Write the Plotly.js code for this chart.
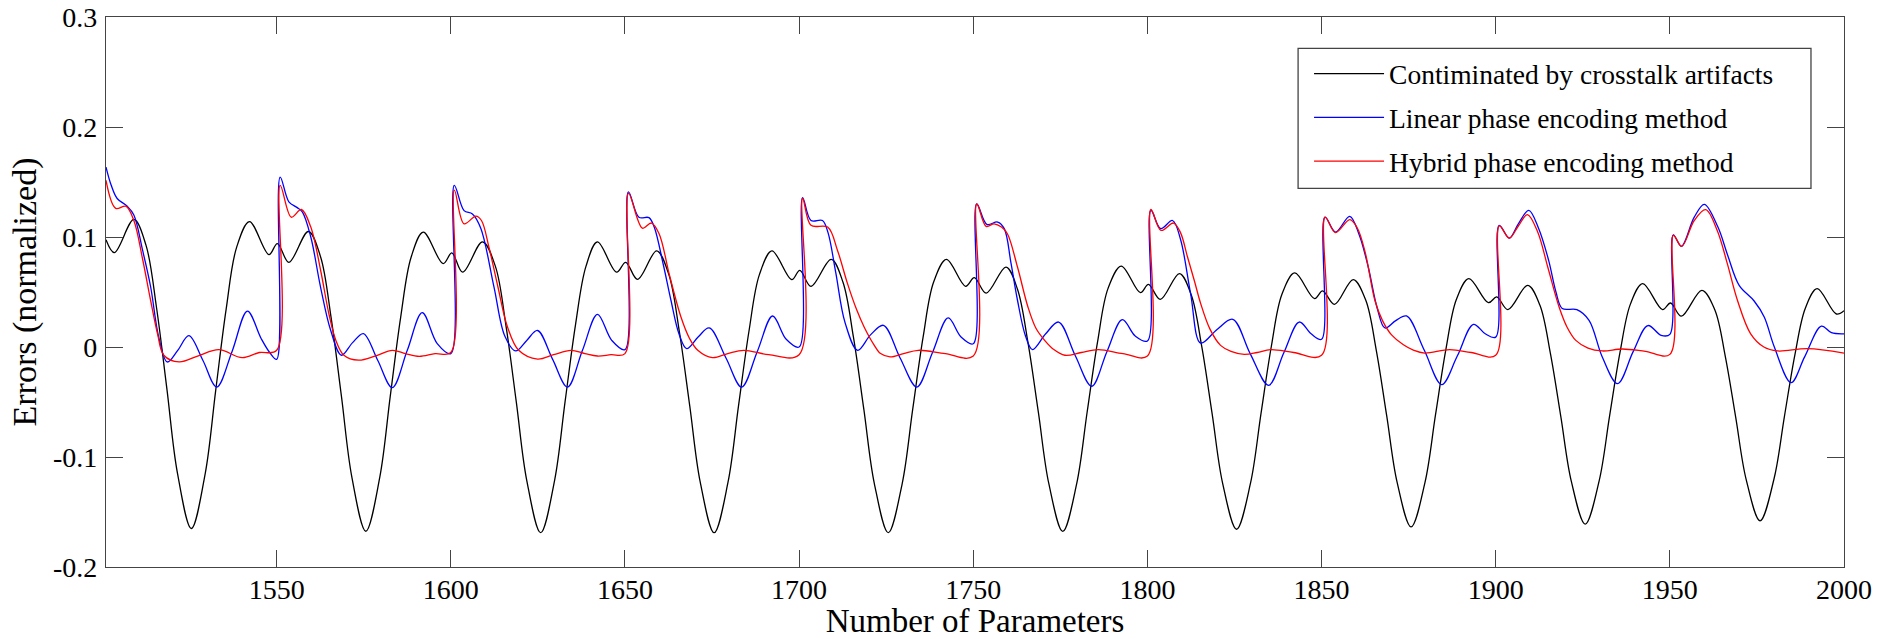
<!DOCTYPE html>
<html>
<head>
<meta charset="utf-8">
<script src="https://cdn.plot.ly/plotly-3.0.1.min.js"></script>
<style>html,body{margin:0;padding:0;background:#fff;}#chart{width:1881px;height:639px;}</style>
</head>
<body>
<div id="chart"></div>
<script>
// ---- data ----
var seriesNames = ["Contiminated by crosstalk artifacts", "Linear phase encoding method", "Hybrid phase encoding method"];

var blackX = [1501,1503.4,1509,1512.5,1515.5,1518.5,1521.5,1525.5,1529.5,1532.5,1535.5,1538.5,1542.2,1547.8,1550.2,1553.5,
1559.1,1562.6,1565.6,1568.6,1571.6,1575.6,1579.6,1582.6,1585.6,1588.6,1592.1,1597.8,1600.3,1603.4,
1609.1,1612.8,1615.8,1618.8,1621.8,1625.8,1629.8,1632.8,1635.8,1638.8,1642.1,1647.6,1650.2,1653.6,
1659.1,1662.6,1665.6,1668.6,1671.6,1675.6,1679.6,1682.6,1685.6,1688.6,1692.2,1697.9,1700.2,1703.4,
1709.2,1712.6,1715.6,1718.6,1721.6,1725.6,1729.6,1732.6,1735.6,1738.6,1742.3,1747.8,1750.3,1753.7,
1759.4,1762.7,1765.7,1768.7,1771.7,1775.7,1779.7,1782.7,1785.7,1788.7,1792.5,1798,1800.3,1803.7,
1809.2,1812.6,1815.6,1818.6,1821.6,1825.6,1829.6,1832.6,1835.6,1838.6,1842.3,1848,1850.3,1853.7,
1859.1,1862.7,1865.7,1868.7,1871.7,1875.7,1879.7,1882.7,1885.7,1888.7,1892.3,1897.9,1900.3,1903.5,
1909.2,1912.7,1915.7,1918.7,1921.7,1925.7,1929.7,1932.7,1935.7,1938.7,1942.2,1947.9,1950.2,1953.3,
1959.2,1962.9,1965.9,1968.9,1971.9,1975.9,1979.9,1982.9,1985.9,1988.9,1992.3,1997.8,2000];
var blackY = [0.0975,0.0858,0.116,0.0924,0.0359,-0.0385,-0.1144,-0.165,-0.1148,-0.0394,0.0345,0.0906,0.114,0.084,0.094,0.077,
0.105,0.0821,0.0273,-0.0449,-0.1185,-0.1675,-0.1185,-0.0451,0.027,0.0816,0.1045,0.0758,0.0855,0.068,
0.0955,0.0733,0.0202,-0.0499,-0.1212,-0.1688,-0.1212,-0.0499,0.0202,0.0733,0.0955,0.068,0.077,0.0615,
0.0873,0.0658,0.0143,-0.0536,-0.1227,-0.1688,-0.1227,-0.0536,0.0143,0.0658,0.0873,0.0612,0.0697,0.0552,
0.0797,0.0588,0.0089,-0.057,-0.1241,-0.1688,-0.1241,-0.057,0.0089,0.0588,0.0797,0.0552,0.063,0.049,
0.0727,0.0525,0.0042,-0.0595,-0.1243,-0.1676,-0.1242,-0.0591,0.0049,0.0533,0.0736,0.0494,0.057,0.0433,
0.0667,0.0472,0.0005,-0.0611,-0.1239,-0.1657,-0.1238,-0.0608,0.0009,0.0477,0.0673,0.044,0.051,0.0388,
0.0613,0.0424,-0.0028,-0.0624,-0.1231,-0.1636,-0.123,-0.062,-0.0022,0.0432,0.0622,0.0403,0.0455,0.034,
0.0561,0.0379,-0.0058,-0.0633,-0.1219,-0.161,-0.1217,-0.0626,-0.0047,0.0392,0.0576,0.034,0.040,0.028,
0.0515,0.0339,-0.0082,-0.0637,-0.1203,-0.158,-0.12,-0.063,-0.0071,0.0353,0.053,0.030,0.033];

var blueX = [1501,1502.5,1504.2,1507.1,1509,1511.5,1513.8,1516.2,1518.6,1521.6,1524.8,1528.8,1532.8,1537.2,1541.6,1545.5,1548,1550,
1551,1553.5,1555.9,1557.4,1559.8,1562.6,1565.5,1568.6,1571.8,1574.9,1579,1583.2,1587.5,1591.8,1596.1,1600,
1601,1603.8,1606.2,1608.6,1612.4,1615.5,1618.6,1621.8,1624.9,1629.2,1633.5,1637.8,1642.1,1646.2,1650,
1651,1654,1656.9,1658.4,1661,1663.2,1665.5,1667.7,1671,1674.2,1679,1683.5,1688,1692.4,1696.3,1700,
1701,1703.4,1706.7,1708.3,1710.5,1713.2,1716.8,1720.5,1724.2,1729,1733.8,1738.3,1742.8,1746.5,1750,
1751,1753.9,1757,1758.9,1760.8,1762.7,1765,1767,1770.8,1774.5,1779.3,1784,1788.4,1792.8,1796.5,1800,
1801,1803.8,1807.2,1809.5,1812.4,1815.3,1820,1824.5,1829.5,1834.8,1839.2,1843.6,1847,1850,
1851,1854,1858.1,1860.8,1863.4,1866,1868.2,1871.3,1874.4,1879.5,1884.5,1889,1893.6,1897,1900,
1901,1903.9,1906.5,1909.5,1912.3,1915.2,1917.3,1919.1,1923.3,1926.8,1930.6,1935,1939.5,1943.7,1947.5,1950,
1951,1953.3,1957,1959.9,1963.8,1966.6,1969.9,1974.2,1977.1,1980,1984.8,1988.7,1993.5,1996.4,2000];
var blueY = [0.1636,0.147,0.135,0.128,0.120,0.088,0.055,0.008,-0.0136,-0.003,0.0103,-0.012,-0.0364,-0.004,0.0327,0.008,-0.005,-0.0112,
0.1545,0.132,0.1267,0.1227,0.100,0.0545,0.0152,-0.0075,0.004,0.0122,-0.012,-0.0369,-0.003,0.0312,0.003,-0.006,
0.147,0.124,0.121,0.108,0.0545,0.01,-0.0036,0.006,0.015,-0.011,-0.0364,-0.003,0.0297,0.006,-0.0024,
0.141,0.118,0.1176,0.109,0.075,0.0425,0.012,-0.0015,0.009,0.0173,-0.01,-0.0364,-0.004,0.0282,0.007,0.000,
0.1358,0.115,0.115,0.104,0.068,0.022,-0.003,0.011,0.0197,-0.01,-0.0364,-0.005,0.0264,0.009,0.003,
0.130,0.1115,0.1136,0.1076,0.077,0.0425,0.01,-0.0024,0.012,0.0227,-0.008,-0.0357,-0.004,0.0249,0.01,0.0055,
0.1243,0.1076,0.115,0.098,0.0485,0.0036,0.016,0.0252,-0.006,-0.0348,-0.005,0.0227,0.012,0.007,
0.118,0.1045,0.1188,0.102,0.0727,0.035,0.0173,0.024,0.0282,-0.003,-0.0342,-0.008,0.0206,0.012,0.009,
0.1106,0.099,0.112,0.1242,0.108,0.0788,0.05,0.035,0.034,0.0243,-0.009,-0.0333,-0.004,0.0195,0.0106,0.0115,
0.102,0.0915,0.118,0.1297,0.109,0.0834,0.056,0.0418,0.0273,0.000,-0.0324,-0.009,0.019,0.013,0.012];

var redX = [1501,1503.8,1506.7,1509,1511.5,1513.8,1515.8,1517.6,1522,1527.5,1533.4,1540.1,1545,1550,
1551,1554.2,1557.1,1559.8,1562.6,1565,1567,1569.3,1573.5,1578.5,1583.2,1587,1590.9,1595.5,1600,
1601,1603.8,1607.2,1608.8,1611,1613.5,1616.3,1619.5,1624.9,1629.5,1634.5,1638.5,1642.1,1646,1650,
1651,1655,1657.6,1659.8,1662.8,1666.1,1668.5,1670.9,1675.1,1679.5,1684.1,1691.3,1700,
1701,1703.4,1708.2,1711,1713.9,1716.5,1718.7,1721.5,1723.4,1726.1,1730,1734.2,1742,1750,
1751,1753.7,1756,1758.1,1759.8,1762.7,1765.7,1768,1770.5,1773,1776.3,1781,1785.9,1793,1800,
1801,1803.9,1807.5,1809.5,1811.5,1813.5,1815.3,1818,1821,1824,1827.8,1831.5,1835.4,1842,1850,
1851,1854,1858.1,1860.3,1862.6,1865.3,1867.5,1870.1,1873.5,1876.5,1879.6,1886.8,1893,1900,
1901,1903.9,1906.5,1909.1,1912,1915,1918.2,1920.5,1923,1926.5,1930.6,1936.4,1943,1950,
1951,1953.4,1957,1960.3,1963.6,1966.5,1969.4,1973.2,1977,1980.9,1989.5,2000];
var redY = [0.1515,0.126,0.128,0.115,0.08,0.0425,0.012,-0.0075,-0.0136,-0.008,-0.0024,-0.0097,-0.005,-0.003,
0.147,0.118,0.125,0.109,0.07,0.03,0.006,-0.0075,-0.012,-0.008,-0.003,-0.006,-0.0085,-0.006,-0.005,
0.1427,0.112,0.119,0.115,0.09,0.055,0.018,-0.003,-0.011,-0.007,-0.003,-0.006,-0.0082,-0.007,-0.006,
0.1397,0.108,0.1127,0.103,0.065,0.027,0.008,-0.003,-0.0097,-0.006,-0.003,-0.007,-0.007,
0.135,0.1106,0.109,0.088,0.0576,0.034,0.018,0.002,-0.006,-0.009,-0.006,-0.003,-0.006,-0.0082,
0.130,0.1097,0.112,0.109,0.103,0.0727,0.0364,0.017,0.006,-0.002,-0.0075,-0.005,-0.0024,-0.006,-0.0082,
0.125,0.106,0.1127,0.104,0.082,0.06,0.0394,0.016,0.0015,-0.004,-0.0067,-0.005,-0.0024,-0.005,-0.0076,
0.118,0.104,0.1158,0.108,0.085,0.0425,0.024,0.011,0.002,-0.003,-0.0055,-0.0024,-0.005,-0.0076,
0.110,0.099,0.110,0.1203,0.105,0.072,0.0364,0.018,0.006,-0.001,-0.0036,-0.0018,-0.004,-0.0067,
0.1015,0.0915,0.115,0.1249,0.106,0.0758,0.0425,0.012,0.000,-0.0036,-0.0015,-0.0055];

var xTickVals = [1550,1600,1650,1700,1750,1800,1850,1900,1950,2000];
var xTickText = ["1550","1600","1650","1700","1750","1800","1850","1900","1950","2000"];
var yTickVals = [-0.2,-0.1,0,0.1,0.2,0.3];
var yTickText = ["-0.2","-0.1","0","0.1","0.2","0.3"];

// ---- chart ----
var FONT = "Liberation Serif, Times New Roman, serif";
function mk(x, y, name, color, grp) {
  return {x: x, y: y, name: name, type: "scatter", mode: "lines",
          line: {color: color, width: 1.3, shape: "spline", smoothing: 1},
          legendgroup: grp, hoverinfo: "x+y"};
}
var traces = [
  mk(blackX, blackY, seriesNames[0], "#000000", "g1"),
  mk(blueX, blueY, seriesNames[1], "#0000ff", "g2"),
  mk(redX, redY, seriesNames[2], "#ff0000", "g3")
];

var axisCommon = {
  showgrid: false, zeroline: false, showline: true, linecolor: "#444", linewidth: 1.3,
  ticks: "inside", ticklen: 17, tickwidth: 1.2, tickcolor: "#444", mirror: "ticks",
  tickfont: {family: FONT, size: 28, color: "#000"}, tickmode: "array",
  ticklabeloverflow: "allow"
};

var layout = {
  width: 1881, height: 639,
  margin: {l: 106, r: 37, t: 17, b: 72, pad: 0},
  paper_bgcolor: "#fff", plot_bgcolor: "#fff",
  font: {family: FONT, color: "#000"},
  showlegend: true,
  xaxis: Object.assign({}, axisCommon, {
    range: [1501, 2000], tickvals: xTickVals, ticktext: xTickText,
    ticklabelstandoff: -3,
    title: {text: "Number of Parameters", font: {family: FONT, size: 33, color: "#000"}, standoff: 4}
  }),
  yaxis: Object.assign({}, axisCommon, {
    range: [-0.2, 0.3], tickvals: yTickVals, ticktext: yTickText,
    ticklabelstandoff: 2,
    title: {text: "Errors (normalized)", font: {family: FONT, size: 34, color: "#000"}, standoff: 6}
  }),
  legend: {
    x: 0.6922, xanchor: "left", y: 0.9414, yanchor: "top",
    bgcolor: "rgba(0,0,0,0)", borderwidth: 0,
    font: {family: FONT, size: 27.5, color: "#000"},
    traceorder: "grouped", tracegroupgap: 5, itemwidth: 70
  },
  shapes: [{
    type: "rect", xref: "paper", yref: "paper",
    x0: 0.6859, x1: 0.981, y0: 0.6885, y1: 0.943,
    line: {color: "#444", width: 1.3}, fillcolor: "#fff", layer: "below"
  }]
};

Plotly.newPlot("chart", traces, layout, {displayModeBar: false, responsive: false});
</script>
</body>
</html>
